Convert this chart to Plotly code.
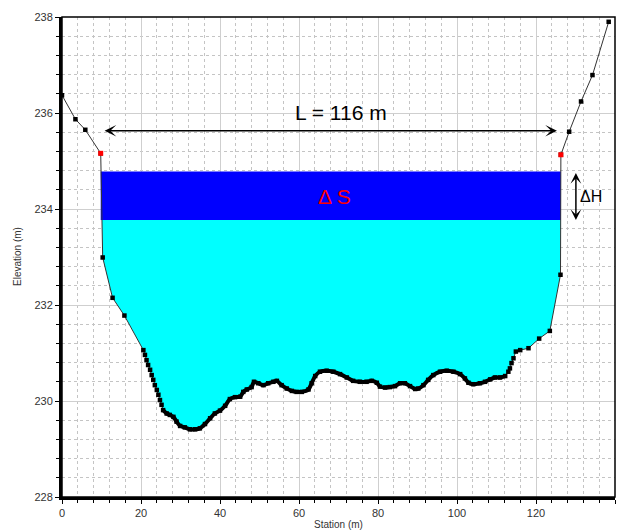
import plotly.graph_objects as go

# ---- data ----
station = [0, 3.4, 5.9, 9.8, 10.3, 12.8, 15.8, 20.6, 21.0, 21.4, 21.8, 22.3, 22.7, 23.1,
           23.5, 24.0, 24.4, 24.8, 25.2, 25.6, 26.5, 27.3, 28.2, 29.0, 29.9, 31.1, 32.4,
           33.7, 34.9, 36.2, 37.5, 38.7, 40.0, 41.3, 42.5, 43.8, 45.1, 45.9, 46.8, 48.0,
           48.6, 49.7, 51.0, 52.2, 53.5, 54.4, 55.6, 56.9, 58.2, 59.4, 60.7, 62.4, 63.2,
           64.1, 65.3, 67.0, 68.7, 70.4, 72.1, 73.7, 75.4, 77.1, 78.4, 79.7, 80.5, 81.8,
           83.0, 84.3, 85.6, 86.8, 88.1, 89.4, 90.2, 91.5, 92.7, 94.0, 95.7, 97.4, 99.1,
           100.8, 102.0, 102.9, 104.1, 105.8, 107.1, 108.4, 109.6, 110.9, 112.2, 113.0,
           113.4, 113.8, 114.3, 114.9, 116.0, 118.1, 120.8, 123.5, 126.2, 126.3, 128.4,
           131.4, 134.3, 138.4]
elevation = [236.37, 235.87, 235.65, 235.16, 232.99, 232.15, 231.78, 231.06, 230.96, 230.85,
             230.75, 230.65, 230.54, 230.44, 230.33, 230.23, 230.13, 230.02, 229.92, 229.81,
             229.74, 229.71, 229.67, 229.57, 229.48, 229.45, 229.41, 229.41, 229.43, 229.52,
             229.64, 229.74, 229.80, 229.90, 230.04, 230.08, 230.09, 230.19, 230.24, 230.29,
             230.40, 230.37, 230.33, 230.37, 230.40, 230.42, 230.33, 230.26, 230.21, 230.19,
             230.19, 230.24, 230.37, 230.52, 230.61, 230.63, 230.61, 230.56, 230.49, 230.42,
             230.40, 230.40, 230.42, 230.38, 230.30, 230.28, 230.29, 230.31, 230.37, 230.37,
             230.31, 230.25, 230.26, 230.33, 230.44, 230.54, 230.61, 230.63, 230.61, 230.56,
             230.47, 230.38, 230.35, 230.37, 230.40, 230.45, 230.49, 230.49, 230.52, 230.61,
             230.68, 230.79, 230.89, 231.03, 231.06, 231.10, 231.30, 231.46, 232.63, 235.13,
             235.61, 236.24, 236.79, 237.90]
bank_station = [9.8, 126.3]
bank_elevation = [235.16, 235.13]
water_low = 233.77
water_high = 234.78
length_arrow_y = 235.63
length_arrow_x = [10.4, 125.3]
dh_arrow_x = 130.1
x_ticks = [0, 20, 40, 60, 80, 100, 120, 140]
y_ticks = [228, 230, 232, 234, 236, 238]
dense_start, dense_end = 19, 89   # index range of the densely surveyed channel bed


def crossings(level):
    """x positions where the profile crosses a given elevation (first and last)."""
    xs = []
    for i in range(len(station) - 1):
        y0, y1 = elevation[i], elevation[i + 1]
        if (y0 - level) * (y1 - level) <= 0 and y0 != y1:
            t = (level - y0) / (y1 - y0)
            xs.append(station[i] + t * (station[i + 1] - station[i]))
    return xs[0], xs[-1]


# cyan polygon: profile below lower water level
xl, xr = crossings(water_low)
inner = [(s, e) for s, e in zip(station, elevation) if e < water_low and xl < s < xr]
poly_x = [xl] + [p[0] for p in inner] + [xr, xl]
poly_y = [water_low] + [p[1] for p in inner] + [water_low, water_low]

# blue band between water levels
band_x = [bank_station[0], bank_station[1], bank_station[1], bank_station[0], bank_station[0]]
band_y = [water_low, water_low, water_high, water_high, water_low]

fig = go.Figure()
fig.add_trace(go.Scatter(x=poly_x, y=poly_y, fill="toself", fillcolor="#00FFFF",
                         mode="none", hoverinfo="skip", showlegend=False))
fig.add_trace(go.Scatter(x=band_x, y=band_y, fill="toself", fillcolor="#0000FF",
                         mode="none", hoverinfo="skip", showlegend=False))
fig.add_trace(go.Scatter(x=station, y=elevation, mode="lines+markers",
                         line=dict(color="#333333", width=1),
                         marker=dict(symbol="square", size=4.5, color="black"),
                         showlegend=False))
# thick bed line where survey points are dense
fig.add_trace(go.Scatter(x=station[dense_start:dense_end], y=elevation[dense_start:dense_end],
                         mode="lines", line=dict(color="black", width=4, shape="spline",
                                                 smoothing=0.6),
                         hoverinfo="skip", showlegend=False))
fig.add_trace(go.Scatter(x=bank_station, y=bank_elevation, mode="markers",
                         marker=dict(symbol="square", size=5, color="#FF0000"),
                         showlegend=False))

font_family = "Liberation Sans, Arial, sans-serif"

# L arrow
fig.add_annotation(x=length_arrow_x[1], y=length_arrow_y, ax=length_arrow_x[0], ay=length_arrow_y,
                   xref="x", yref="y", axref="x", ayref="y", text="", showarrow=True,
                   arrowside="end+start", arrowhead=3, arrowsize=1.3, arrowwidth=1.5,
                   arrowcolor="black")
fig.add_annotation(x=70.6, y=236.01, xref="x", yref="y", text="L = 116 m", showarrow=False,
                   font=dict(family=font_family, size=21, color="black"))
# Delta S
fig.add_annotation(x=69.1, y=234.27, xref="x", yref="y", text="Δ S", showarrow=False,
                   font=dict(family=font_family, size=21, color="#FF0000"))
# Delta H arrow
fig.add_annotation(x=dh_arrow_x, y=water_low, ax=dh_arrow_x, ay=water_high,
                   xref="x", yref="y", axref="x", ayref="y", text="", showarrow=True,
                   arrowside="end+start", arrowhead=3, arrowsize=1.2, arrowwidth=1.5,
                   arrowcolor="black")
fig.add_annotation(x=130.6, y=234.27, xref="x", yref="y", text="ΔH", showarrow=False,
                   xanchor="left", font=dict(family=font_family, size=16, color="black"))

# axis titles
fig.add_annotation(x=0.5, y=0, xref="paper", yref="paper", yanchor="top", yshift=-20,
                   text="Station (m)", showarrow=False,
                   font=dict(family=font_family, size=10, color="#333333"))
fig.add_annotation(x=0, y=0.5, xref="paper", yref="paper", xanchor="center", xshift=-45,
                   text="Elevation (m)", textangle=-90, showarrow=False,
                   font=dict(family=font_family, size=10, color="#333333"))

# border (thin top/right)
fig.add_shape(type="rect", xref="paper", yref="paper", x0=0, y0=0, x1=1, y1=1,
              line=dict(color="black", width=1.5), layer="above")

axis_common = dict(
    showgrid=True, gridcolor="#cfcfcf", gridwidth=1,
    showline=True, linecolor="black", linewidth=3,
    ticks="outside", ticklen=4, tickcolor="black", tickwidth=1,
    zeroline=False,
    tickfont=dict(family=font_family, size=11, color="#333333"),
)

fig.update_xaxes(range=[0, 140], tickvals=x_ticks, **axis_common,
                 minor=dict(dtick=4, showgrid=True, gridcolor="#c4c4c4", griddash="3px,3px",
                            gridwidth=1, ticks="outside", ticklen=3, tickcolor="black"))
fig.update_yaxes(range=[228, 238], tickvals=y_ticks, **axis_common,
                 minor=dict(dtick=0.4, tick0=228, showgrid=True, gridcolor="#c4c4c4",
                            griddash="3px,3px", gridwidth=1, ticks="outside", ticklen=3,
                            tickcolor="black"))

fig.update_layout(
    width=621, height=530,
    margin=dict(l=62, r=6, t=17, b=33),
    plot_bgcolor="white", paper_bgcolor="white",
    showlegend=False,
)

fig.write_html("out.html")
